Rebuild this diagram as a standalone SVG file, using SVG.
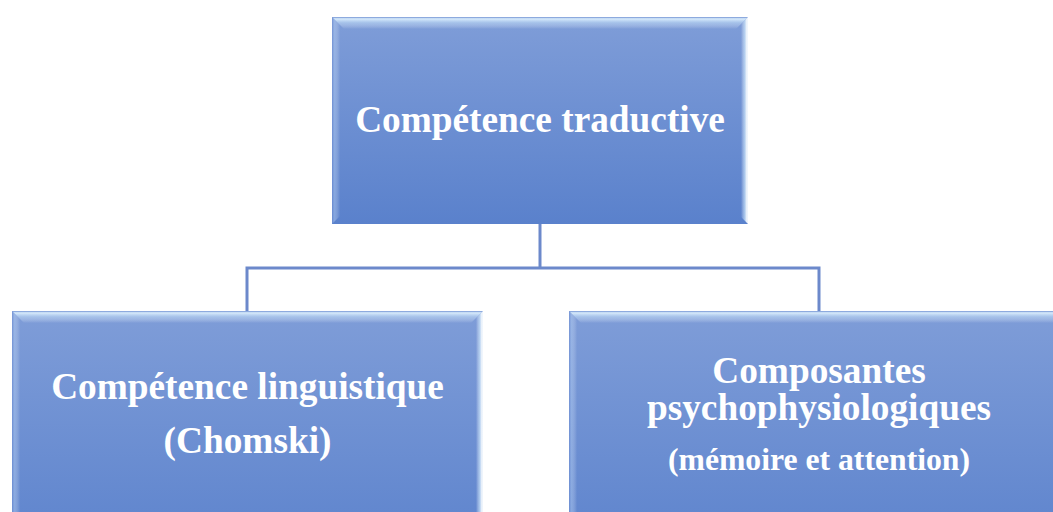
<svg xmlns="http://www.w3.org/2000/svg" width="1053" height="512" viewBox="0 0 1053 512">
<defs>
<linearGradient id="body" x1="0" y1="0" x2="0" y2="1">
<stop offset="0" stop-color="#7f9dd8"/>
<stop offset="1" stop-color="#5a81cc"/>
</linearGradient>
<linearGradient id="topBevel" x1="0" y1="0" x2="0" y2="1">
<stop offset="0" stop-color="#6f90d2" stop-opacity="0.9"/>
<stop offset="0.15" stop-color="#e2f4ff" stop-opacity="0.9"/>
<stop offset="0.5" stop-color="#c9e3fa" stop-opacity="0.5"/>
<stop offset="1" stop-color="#ffffff" stop-opacity="0"/>
</linearGradient>
<linearGradient id="rightBevel" x1="0" y1="0" x2="1" y2="0">
<stop offset="0" stop-color="#ffffff" stop-opacity="0"/>
<stop offset="0.5" stop-color="#d8f0ff" stop-opacity="0.6"/>
<stop offset="0.85" stop-color="#ffffff" stop-opacity="0.95"/>
<stop offset="1" stop-color="#f4fbff" stop-opacity="0.9"/>
</linearGradient>
<linearGradient id="leftBevel" x1="0" y1="0" x2="1" y2="0">
<stop offset="0" stop-color="#6a8ad0" stop-opacity="0.6"/>
<stop offset="0.3" stop-color="#b8d2f5" stop-opacity="0.45"/>
<stop offset="1" stop-color="#ffffff" stop-opacity="0"/>
</linearGradient>
</defs>
<style>
.body{fill:url(#body);}
.tb{fill:url(#topBevel);}
.rb{fill:url(#rightBevel);}
.lb{fill:url(#leftBevel);}
.lbl{font-family:"Liberation Serif","Times New Roman",serif;font-weight:bold;fill:#ffffff;text-anchor:middle;}
.conn{fill:none;stroke:#6c89cb;stroke-width:3;}
</style>
<g id="connectors">
<path class="conn" d="M540 224 V268"/>
<path class="conn" d="M247 311 V268 H819 V311"/>
</g>
<g id="node-top">
<rect class="body" x="332" y="17" width="416" height="207"/>
<polygon class="tb" points="332,17 748,17 736,29 344,29"/>
<polygon class="rb" points="748,17 748,224 741,217 741,24"/>
<polygon class="lb" points="332,17 340,25 340,216 332,224"/>
<text class="lbl" x="540" y="132" font-size="37.3">Compétence traductive</text>
</g>
<g id="node-left">
<rect class="body" x="12" y="311" width="471" height="260"/>
<polygon class="tb" points="12,311 483,311 471,323 24,323"/>
<polygon class="rb" points="483,311 483,571 476,564 476,318"/>
<polygon class="lb" points="12,311 20,319 20,563 12,571"/>
<text class="lbl" x="247.5" y="399" font-size="37.3">Compétence linguistique</text>
<text class="lbl" x="247.5" y="453" font-size="37.3">(Chomski)</text>
</g>
<g id="node-right">
<rect class="body" x="569" y="311" width="500" height="260"/>
<polygon class="tb" points="569,311 1069,311 1057,323 581,323"/>
<polygon class="lb" points="569,311 577,319 577,563 569,571"/>
<text class="lbl" x="819" y="383" font-size="37.3">Composantes</text>
<text class="lbl" x="819" y="420" font-size="37.3">psychophysiologiques</text>
<text class="lbl" x="819" y="470" font-size="31.7">(mémoire et attention)</text>
</g>
</svg>
